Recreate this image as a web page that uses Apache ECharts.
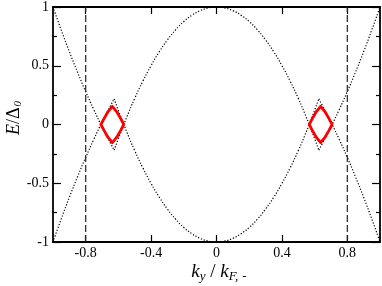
<!DOCTYPE html>
<html><head><meta charset="utf-8">
<script src="https://cdn.jsdelivr.net/npm/echarts@6/dist/echarts.min.js"></script>
<style>html,body{margin:0;padding:0;background:#fff}#c{width:382px;height:286px}</style>
</head><body><div id="c"></div>
<script>
// ---- data ----
const xTicks = [-0.8, -0.4, 0, 0.4, 0.8];
const yTicks = [-1, -0.5, 0, 0.5, 1];
const dashKy = [-0.8, 0.8];

// inner branches (between the two crossings)
const innerKy = [-0.626,-0.6,-0.55,-0.5,-0.45,-0.4,-0.35,-0.3,-0.25,-0.2,-0.15,-0.1,-0.05,0,0.05,0.1,0.15,0.2,0.25,0.3,0.35,0.4,0.45,0.5,0.55,0.6,0.626];
const archE   = [-0.218,-0.12,0.059,0.223,0.37,0.502,0.619,0.72,0.806,0.876,0.93,0.969,0.992,1,0.992,0.969,0.93,0.876,0.806,0.72,0.619,0.502,0.37,0.223,0.059,-0.12,-0.218];
const bowlE   = [0.218,0.12,-0.059,-0.223,-0.37,-0.502,-0.619,-0.72,-0.806,-0.876,-0.93,-0.969,-0.992,-1,-0.992,-0.969,-0.93,-0.876,-0.806,-0.72,-0.619,-0.502,-0.37,-0.223,-0.059,0.12,0.218];

// outer branches
const outerLeftKy  = [-1,-0.95,-0.9,-0.85,-0.8,-0.75,-0.7,-0.65,-0.626];
const outerLeftUpE = [1,0.805,0.62,0.445,0.28,0.125,-0.02,-0.155,-0.218];
const outerLeftLoE = [-1,-0.805,-0.62,-0.445,-0.28,-0.125,0.02,0.155,0.218];
const outerRightKy  = [0.626,0.65,0.7,0.75,0.8,0.85,0.9,0.95,1];
const outerRightUpE = [-0.218,-0.155,-0.02,0.125,0.28,0.445,0.62,0.805,1];
const outerRightLoE = [0.218,0.155,0.02,-0.125,-0.28,-0.445,-0.62,-0.805,-1];

// red loops
const loopLeftKy  = [-0.707,-0.688,-0.663,-0.637,-0.611,-0.586,-0.567,-0.586,-0.611,-0.637,-0.663,-0.688,-0.707];
const loopRightKy = [0.567,0.586,0.611,0.637,0.663,0.688,0.707,0.688,0.663,0.637,0.611,0.586,0.567];
const loopE       = [0,0.05,0.11,0.155,0.11,0.05,0,-0.05,-0.11,-0.155,-0.11,-0.05,0];

// ---- chart ----
const zip = (xs, ys) => xs.map((x, i) => [x, ys[i]]);
const SERIF = 'Liberation Serif';
const dotted = {color:'#000', width:1.2, type:[1.2,1.8]};

function dotSeries(xs, ys){
  return {type:'line', data: zip(xs, ys), showSymbol:false, smooth:true, lineStyle: dotted, silent:true, z:2};
}
const series = [
  dotSeries(innerKy, archE),
  dotSeries(innerKy, bowlE),
  dotSeries(outerLeftKy, outerLeftUpE),
  dotSeries(outerLeftKy, outerLeftLoE),
  dotSeries(outerRightKy, outerRightUpE),
  dotSeries(outerRightKy, outerRightLoE),
];
dashKy.forEach(k => series.push({type:'line', data:[[k, yTicks[0]],[k, yTicks[yTicks.length-1]]], showSymbol:false,
  lineStyle:{color:'#222', width:1.2, type:[7,3]}, silent:true, z:3}));
[loopLeftKy, loopRightKy].forEach(xs => series.push({type:'line', data: zip(xs, loopE), showSymbol:false,
  lineStyle:{color:'#ff0000', width:2.8, join:'round', cap:'round'}, silent:true, z:5}));

const axisLine = {show:true, onZero:false, lineStyle:{color:'#000', width:1.8}};
const lblStyle = {fontFamily:SERIF, fontSize:14, color:'#000'};

const chart = echarts.init(document.getElementById('c'), null, {renderer:'canvas'});
chart.setOption({
  animation:false,
  backgroundColor:'#fff',
  grid:{left:53, right:2, top:5, bottom:44, containLabel:false},
  xAxis:[
    {type:'value', min:-1, max:1, position:'bottom', axisLine,
     axisTick:{show:true, inside:true, length:7, lineStyle:{color:'#000', width:1.2}, customValues:xTicks},
     axisLabel:{show:true, margin:4, customValues:xTicks, ...lblStyle}, splitLine:{show:false}},
    {type:'value', min:-1, max:1, position:'top', axisLine,
     axisTick:{show:true, inside:true, length:7, lineStyle:{color:'#000', width:1.2}, customValues:xTicks},
     axisLabel:{show:false}, splitLine:{show:false}}
  ],
  yAxis:[
    {type:'value', min:-1, max:1, interval:0.5, position:'left', axisLine,
     axisTick:{show:true, inside:true, length:8, lineStyle:{color:'#000', width:1.2}},
     minorTick:{show:true, splitNumber:2, length:4, lineStyle:{color:'#000', width:1.2}},
     axisLabel:{show:true, margin:4, ...lblStyle}, splitLine:{show:false}},
    {type:'value', min:-1, max:1, interval:0.5, position:'right', axisLine,
     axisTick:{show:true, inside:true, length:8, lineStyle:{color:'#000', width:1.2}},
     minorTick:{show:true, splitNumber:2, length:4, lineStyle:{color:'#000', width:1.2}},
     axisLabel:{show:false}, splitLine:{show:false}}
  ],
  graphic:[
    {type:'text', x:14, y:118, rotation:Math.PI/2, silent:true,
     style:{text:'{i|E}{n|/Δ}{s|0}', align:'center', verticalAlign:'middle', fill:'#000',
       rich:{
         i:{fontFamily:SERIF, fontStyle:'italic', fontSize:18, lineHeight:18, fill:'#000'},
         n:{fontFamily:SERIF, fontSize:18, lineHeight:18, fill:'#000'},
         s:{fontFamily:SERIF, fontStyle:'italic', fontSize:11, lineHeight:11, padding:[9,0,0,1], fill:'#000'}
       }}},
    {type:'text', x:219, y:272, silent:true,
     style:{text:'{i|k}{s|y}{n| / }{i|k}{s|F,}{t|-}', align:'center', verticalAlign:'middle', fill:'#000',
       rich:{
         i:{fontFamily:SERIF, fontStyle:'italic', fontSize:19, lineHeight:20, fill:'#000'},
         n:{fontFamily:SERIF, fontSize:19, lineHeight:20, fill:'#000'},
         s:{fontFamily:SERIF, fontStyle:'italic', fontSize:13, lineHeight:13, padding:[10,0,0,0], fill:'#000'},
         t:{fontFamily:SERIF, fontStyle:'italic', fontSize:13, lineHeight:13, padding:[10,0,0,4], fill:'#000'}
       }}}
  ],
  series
});
</script></body></html>
